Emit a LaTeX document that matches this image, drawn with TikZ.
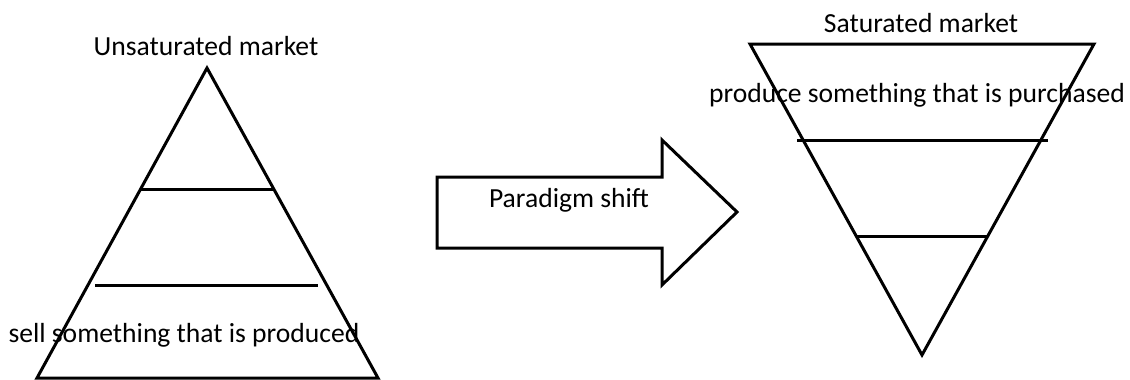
\documentclass[tikz,border=0pt]{standalone}
\usepackage{fontspec}
\setmainfont{Carlito}
\tikzset{
  txt/.style={inner sep=0pt, font=\fontsize{13.8}{16}\selectfont},
  shape line/.style={line width=1.5pt, line join=miter}
}
\begin{document}
\begin{tikzpicture}[x=0.5pt,y=-0.5pt]
\useasboundingbox (0,0) rectangle (1130,380);

% unsaturated market (pyramid)
\coordinate (p1) at (207,68);
\coordinate (p2) at (37,378);
\coordinate (p3) at (378,378);
\coordinate (pa1) at (141,189);
\coordinate (pa2) at (274,189);
\coordinate (pb1) at (95,285);
\coordinate (pb2) at (318,285);

\node[txt] (u) at (206,46) {Unsaturated market};
\node[txt] (us) at (184,335) {sell something that is produced};

% shift arrow
\coordinate (s1) at (437,177);
\coordinate (s2) at (662,177);
\coordinate (s3) at (662,140);
\coordinate (s4) at (737,212);
\coordinate (s5) at (662,285);
\coordinate (s6) at (662,248);
\coordinate (s7) at (437,248);
\node[txt] (sh) at (569,200) {Paradigm shift};

% saturated market (funnel)
\coordinate (q1) at (750,44);
\coordinate (q2) at (1094,44);
\coordinate (q3) at (922,355);
\coordinate (qa1) at (797,140);
\coordinate (qa2) at (1048,140);
\coordinate (qb1) at (857,236);
\coordinate (qb2) at (988,236);

\node[txt] (sa) at (921,23) {Saturated market};
\node[txt] (sp) at (917,95) {produce something that is purchased};

\draw[shape line] (p1) -- (p2) -- (p3) -- cycle;
\draw[shape line] (pa1) -- (pa2);
\draw[shape line] (pb1) -- (pb2);
\draw[shape line] (s1) -- (s2) -- (s3) -- (s4) -- (s5) -- (s6) -- (s7) -- cycle;
\draw[shape line] (q1) -- (q2) -- (q3) -- cycle;
\draw[shape line] (qa1) -- (qa2);
\draw[shape line] (qb1) -- (qb2);
\end{tikzpicture}
\end{document}
